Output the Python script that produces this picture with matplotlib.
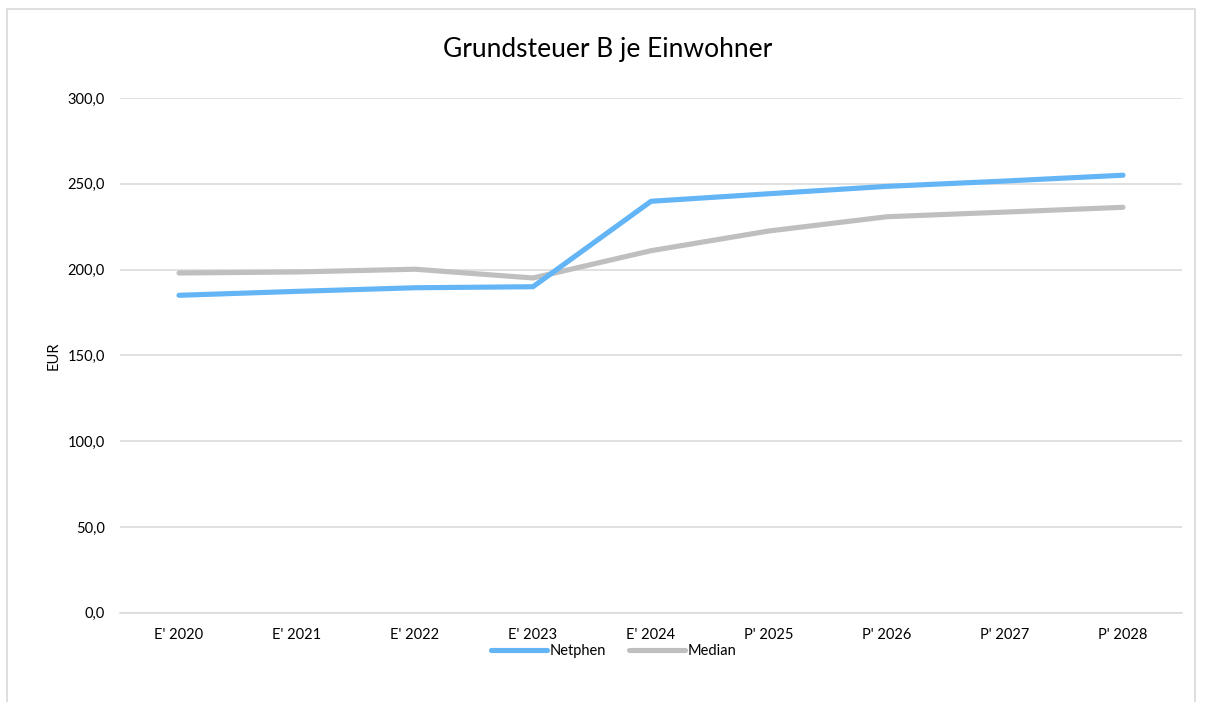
import matplotlib
matplotlib.use("Agg")
import matplotlib.pyplot as plt
from matplotlib.patches import Rectangle
from matplotlib.ticker import FuncFormatter

categories = ["E' 2020", "E' 2021", "E' 2022", "E' 2023", "E' 2024",
              "P' 2025", "P' 2026", "P' 2027", "P' 2028"]
netphen = [185.0, 187.3, 189.4, 190.0, 239.8, 244.2, 248.5, 251.6, 255.0]
median = [198.0, 198.6, 200.2, 195.1, 211.0, 222.5, 230.8, 233.5, 236.3]

plt.rcParams['font.family'] = ['Lato', 'DejaVu Sans']

W, H = 1205, 702
fig = plt.figure(figsize=(W / 100, H / 100), dpi=100)
ax = fig.add_axes([120 / W, (H - 612.7) / H, (1182 - 120) / W, (612.7 - 98) / H])

x = list(range(len(categories)))
ax.plot(x, netphen, color='#63B5F5', lw=3.7, solid_capstyle='round', label='Netphen', zorder=3)
ax.plot(x, median, color='#BFBFBF', lw=3.7, solid_capstyle='round', label='Median', zorder=2)

ax.set_xlim(-0.5, len(categories) - 0.5)
ax.set_ylim(0, 300)
ax.set_yticks([0, 50, 100, 150, 200, 250, 300])
ax.yaxis.set_major_formatter(FuncFormatter(lambda v, p: f"{v:.1f}".replace('.', ',')))
ax.set_xticks(x)
ax.set_xticklabels(categories)
ax.grid(axis='y', color='#D9D9D9', lw=1.1)
ax.set_axisbelow(True)
for s in ['top', 'right', 'left']:
    ax.spines[s].set_visible(False)
ax.spines['bottom'].set_color('#D9D9D9')
ax.spines['bottom'].set_linewidth(1.1)
ax.tick_params(axis='both', length=0, labelsize=10.5, colors='#000000')
ax.tick_params(axis='x', pad=11)
ax.tick_params(axis='y', pad=11)
ax.set_ylabel('EUR', fontsize=10.5, labelpad=5)

fig.text(608 / W, 1 - 50 / H, 'Grundsteuer B je Einwohner', ha='center', va='center', fontsize=19)

leg = fig.legend(loc='center', bbox_to_anchor=(614 / W, 1 - 651 / H), ncol=2, frameon=False,
                 fontsize=10.5, handlelength=3.8, handletextpad=0.2, columnspacing=1.6)

fig.patches.append(Rectangle((7 / W, -0.05), (1195 - 7) / W, 1.05 - 9 / H,
                             transform=fig.transFigure, fill=False, edgecolor='#D9D9D9', lw=1.2))

fig.savefig('out.png', dpi=100)
